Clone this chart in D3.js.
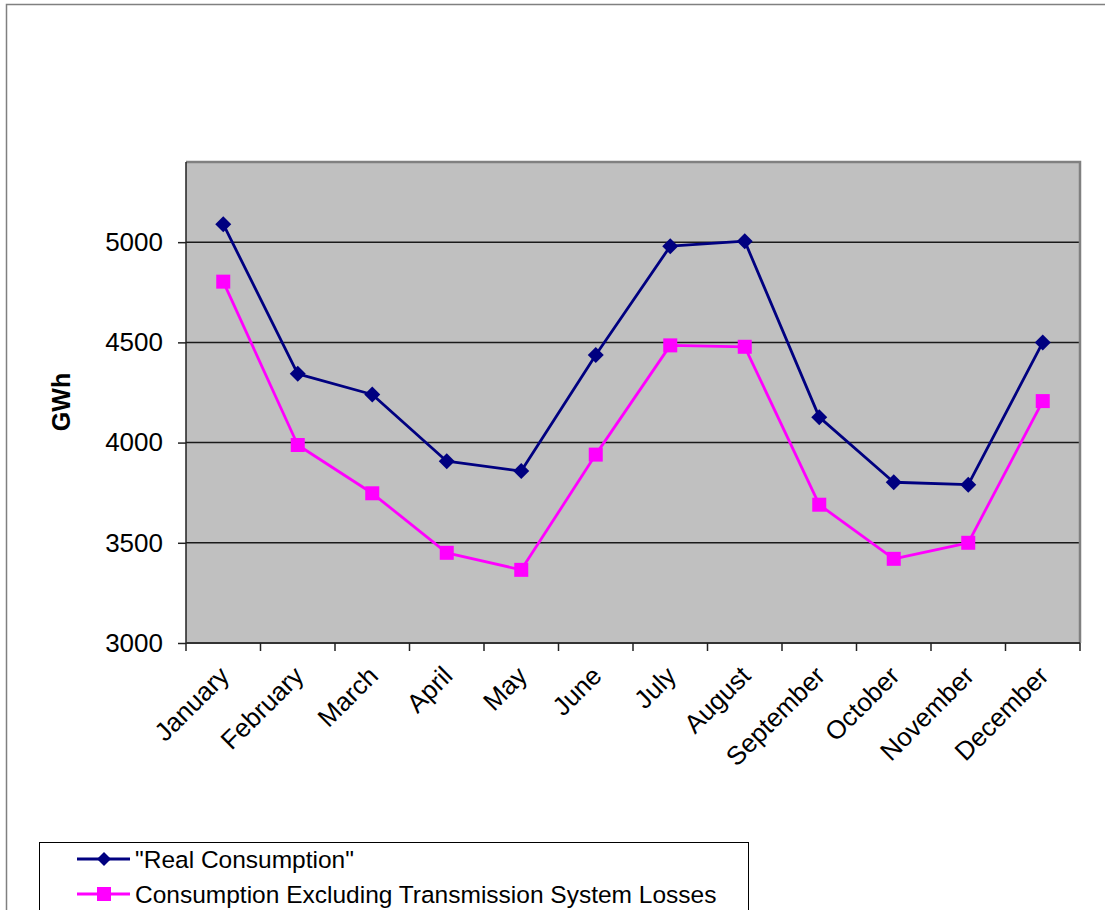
<!DOCTYPE html>
<html>
<head>
<meta charset="utf-8">
<script src="https://cdn.jsdelivr.net/npm/d3@7"></script>
<style>
  html, body { margin: 0; padding: 0; background: #fff; }
  svg { display: block; font-family: "Liberation Sans", Arial, sans-serif; }
</style>
</head>
<body>
<svg id="chart" width="1105" height="910"></svg>
<script>
// Monthly electricity consumption (GWh)
const months = ["January", "February", "March", "April", "May", "June",
                "July", "August", "September", "October", "November", "December"];
const realConsumption = [5090, 4343, 4240, 3907, 3858, 4437, 4980, 5005, 4127, 3802, 3790, 4500];
const exclLosses      = [4803, 3988, 3747, 3450, 3365, 3940, 4485, 4478, 3690, 3420, 3500, 4207];
const yTicks = [3000, 3500, 4000, 4500, 5000];
const seriesNames = ["\"Real Consumption\"", "Consumption Excluding Transmission System Losses"];

const svg = d3.select("#chart");

// Outer chart frame
svg.append("path")
  .attr("d", "M6.5,910 V4.5 H1105")
  .attr("fill", "none").attr("stroke", "#808080").attr("stroke-width", 1.5);

const plot = { left: 186, top: 162, right: 1080, bottom: 643 };

const x = d3.scaleBand().domain(months).range([plot.left, plot.right]).padding(0);
const y = d3.scaleLinear().domain([3000, 5400]).range([plot.bottom, plot.top]);

// Plot area background
svg.append("rect")
  .attr("x", plot.left).attr("y", plot.top)
  .attr("width", plot.right - plot.left).attr("height", plot.bottom - plot.top)
  .attr("fill", "#c0c0c0");

// Horizontal gridlines
svg.append("g")
  .selectAll("line")
  .data(yTicks.filter(t => t > 3000))
  .join("line")
  .attr("x1", plot.left).attr("x2", plot.right)
  .attr("y1", d => y(d)).attr("y2", d => y(d))
  .attr("stroke", "#1a1a1a").attr("stroke-width", 1.5);

// Plot area border (top and right in gray)
svg.append("path")
  .attr("d", `M${plot.left},${plot.top} H${plot.right} V${plot.bottom}`)
  .attr("fill", "none").attr("stroke", "#808080").attr("stroke-width", 2.5);

// Y axis
const yAxis = d3.axisLeft(y).tickValues(yTicks).tickSize(8).tickPadding(15).tickFormat(d3.format("d"));
const gy = svg.append("g").attr("transform", `translate(${plot.left},0)`).call(yAxis);
gy.select(".domain").attr("stroke", "#222").attr("stroke-width", 1.5)
  .attr("d", `M0,${plot.top}V${plot.bottom}`);
gy.selectAll(".tick line").attr("stroke", "#222").attr("stroke-width", 1.5);
gy.selectAll(".tick text").attr("font-size", 26).attr("fill", "#000")
  .attr("font-family", "Liberation Sans, Arial, sans-serif");

// X axis: ticks sit on category boundaries
const gx = svg.append("g").attr("transform", `translate(0,${plot.bottom})`);
gx.append("line")
  .attr("x1", plot.left).attr("x2", plot.right)
  .attr("stroke", "#333").attr("stroke-width", 2);
const boundaries = months.map(m => x(m)).concat([x.range()[1]]);
gx.selectAll("line.tick")
  .data(boundaries)
  .join("line").attr("class", "tick")
  .attr("x1", d => d).attr("x2", d => d)
  .attr("y1", 0).attr("y2", 8)
  .attr("stroke", "#222").attr("stroke-width", 1.5);
gx.selectAll("text")
  .data(months)
  .join("text")
  .attr("transform", d => `translate(${x(d) + x.bandwidth() / 2 + 1},${28}) rotate(-45)`)
  .attr("text-anchor", "end")
  .attr("dy", "0.35em")
  .attr("font-size", 26)
  .attr("fill", "#000")
  .text(d => d);

// Y axis title
svg.append("text")
  .attr("transform", `translate(${70},${402}) rotate(-90)`)
  .attr("text-anchor", "middle")
  .attr("font-size", 25)
  .attr("font-weight", "bold")
  .attr("fill", "#000")
  .text("GWh");

const line = d3.line()
  .x((d, i) => x(months[i]) + x.bandwidth() / 2)
  .y(d => y(d));

const diamond = s => `M0,${-s}L${s},0L0,${s}L${-s},0Z`;
const square = s => `M${-s},${-s}H${s}V${s}H${-s}Z`;

const series = [
  { name: seriesNames[0], values: realConsumption, color: "#000080", marker: diamond(8), legendMarker: diamond(7) },
  { name: seriesNames[1], values: exclLosses, color: "#ff00ff", marker: square(7), legendMarker: square(7) }
];

series.forEach(s => {
  const g = svg.append("g");
  g.append("path")
    .datum(s.values)
    .attr("d", line)
    .attr("fill", "none")
    .attr("stroke", s.color)
    .attr("stroke-width", 2.8)
    .attr("stroke-linejoin", "round");
  g.selectAll("path.marker")
    .data(s.values)
    .join("path").attr("class", "marker")
    .attr("transform", (d, i) => `translate(${x(months[i]) + x.bandwidth() / 2},${y(d)})`)
    .attr("d", s.marker)
    .attr("fill", s.color);
});

// Legend
const legend = svg.append("g");
legend.append("rect")
  .attr("x", 39.5).attr("y", 842.5)
  .attr("width", 709).attr("height", 100)
  .attr("fill", "#fff").attr("stroke", "#000").attr("stroke-width", 1);
series.forEach((s, i) => {
  const cy = 859 + i * 35;
  const row = legend.append("g");
  row.append("line")
    .attr("x1", 77).attr("x2", 130).attr("y1", cy).attr("y2", cy)
    .attr("stroke", s.color).attr("stroke-width", 2.8);
  row.append("path")
    .attr("transform", `translate(104,${cy})`)
    .attr("d", s.legendMarker).attr("fill", s.color);
  row.append("text")
    .attr("x", 135).attr("y", cy).attr("dy", "0.35em")
    .attr("font-size", 24.5).attr("fill", "#000")
    .text(s.name);
});
</script>
</body>
</html>
